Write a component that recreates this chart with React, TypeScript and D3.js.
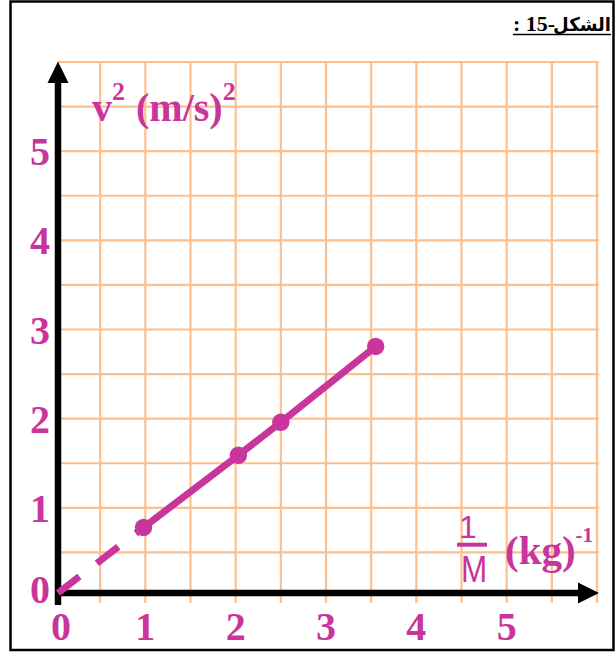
import React from "react";
import * as d3 from "d3";

// Measured points: inverse mass (kg^-1) against squared speed (m/s)^2
const invMass = [0.98, 2.03, 2.5, 3.55];
const vSquared = [0.78, 1.59, 1.96, 2.81];
const xTickLabels = ["0", "1", "2", "3", "4", "5"];
const yTickLabels = ["0", "1", "2", "3", "4", "5"];
const gridStep = 0.5;
const axisMax = 6;

const W = 615;
const H = 652;
const MAGENTA = "#c8359b";
const GRID = "#fdbf8d";
const SERIF = "'Liberation Serif', 'Times New Roman', serif";
const SANS = "'Liberation Sans', Arial, sans-serif";

export default function App() {
  const x = d3.scaleLinear().domain([0, axisMax]).range([55, 597]);
  const y = d3.scaleLinear().domain([0, axisMax]).range([597, 62]);
  const gridVals = d3.range(gridStep, axisMax + gridStep / 2, gridStep);

  const axisX = x(0) + 3;
  const axisY = y(0) - 4;

  const pts: [number, number][] = invMass.map((m, i) => [x(m), y(vSquared[i])]);
  const solid = d3.line()(pts) as string;
  const dashed = d3.line()([[axisX, axisY], pts[0]]) as string;

  const yTop = y(axisMax);
  const xRight = x(axisMax);

  return (
    <svg
      width={W}
      height={H}
      viewBox={`0 0 ${W} ${H}`}
      style={{ position: "absolute", left: 0, top: 0, background: "#fff" }}
    >
      {/* frame */}
      <rect x={10.5} y={1.5} width={603} height={648.5} fill="#fff" stroke="#000" strokeWidth={2.5} />

      {/* caption: figure number, underlined */}
      <g fill="#000" fontWeight="bold">
        <text
          transform="translate(611,31) scale(0.95,1)"
          textAnchor="end"
          fontFamily="'DejaVu Sans', serif"
          fontSize={19}
        >
          الشكل
        </text>
        <text x={513} y={31} fontFamily={SERIF} fontSize={22}>
          : 15-
        </text>
        <line x1={513} x2={611} y1={34.5} y2={34.5} stroke="#000" strokeWidth={1.5} />
      </g>

      {/* grid */}
      <g stroke={GRID} strokeWidth={2.2}>
        {gridVals.map((g) => (
          <line key={`v${g}`} x1={x(g)} x2={x(g)} y1={yTop} y2={axisY + 10} />
        ))}
        {gridVals.map((g) => (
          <line key={`h${g}`} x1={axisX} x2={xRight + 2} y1={y(g)} y2={y(g)} />
        ))}
      </g>

      {/* axes */}
      <line x1={axisX} x2={axisX} y1={yTop + 18} y2={axisY + 12} stroke="#000" strokeWidth={6.5} />
      <path d={`M${axisX},${yTop - 0.5} L${axisX - 10.5},${yTop + 21} L${axisX + 10.5},${yTop + 21} Z`} fill="#000" />
      <line x1={axisX - 3} x2={xRight - 18} y1={axisY} y2={axisY} stroke="#000" strokeWidth={6.5} />
      <path d={`M${xRight + 2},${axisY} L${xRight - 19},${axisY - 10.5} L${xRight - 19},${axisY + 10.5} Z`} fill="#000" />

      {/* tick labels */}
      <g fontFamily={SERIF} fontWeight="bold" fontSize={40} fill={MAGENTA} textAnchor="middle">
        {yTickLabels.map((t) => {
          const cy = Math.min(y(+t), y(0) - 8);
          return (
            <text key={`y${t}`} x={40} y={cy + 14}>
              {t}
            </text>
          );
        })}
        {xTickLabels.map((t) => {
          const cx = Math.max(x(+t), x(0) + 6);
          return (
            <text key={`x${t}`} x={cx} y={640}>
              {t}
            </text>
          );
        })}
      </g>

      {/* vertical axis title */}
      <text x={92} y={121} fontFamily={SERIF} fontWeight="bold" fontSize={40} fill={MAGENTA}>
        v
        <tspan fontSize={26} dy={-21}>2</tspan>
        <tspan dx={11} dy={21}>(m/s)</tspan>
        <tspan fontSize={26} dy={-21}>2</tspan>
      </text>

      {/* horizontal axis title */}
      <g fill={MAGENTA}>
        <text x={468} y={538} textAnchor="middle" fontFamily={SANS} fontSize={32}>1</text>
        <line x1={457} x2={487} y1={544.7} y2={544.7} stroke={MAGENTA} strokeWidth={4} />
        <text
          transform="translate(474,581.5) scale(0.85,1)"
          textAnchor="middle"
          fontFamily={SANS}
          fontSize={37}
        >
          M
        </text>
        <text x={505} y={564} fontFamily={SERIF} fontWeight="bold" fontSize={41}>
          (kg)
          <tspan fontSize={21} dy={-22}>-1</tspan>
        </text>
      </g>

      {/* data */}
      <path d={dashed} fill="none" stroke={MAGENTA} strokeWidth={7} strokeDasharray="27 22" />
      <path d={solid} fill="none" stroke={MAGENTA} strokeWidth={7} />
      {pts.map(([px, py], i) => (
        <circle key={i} cx={px} cy={py} r={8.7} fill={MAGENTA} />
      ))}
    </svg>
  );
}
